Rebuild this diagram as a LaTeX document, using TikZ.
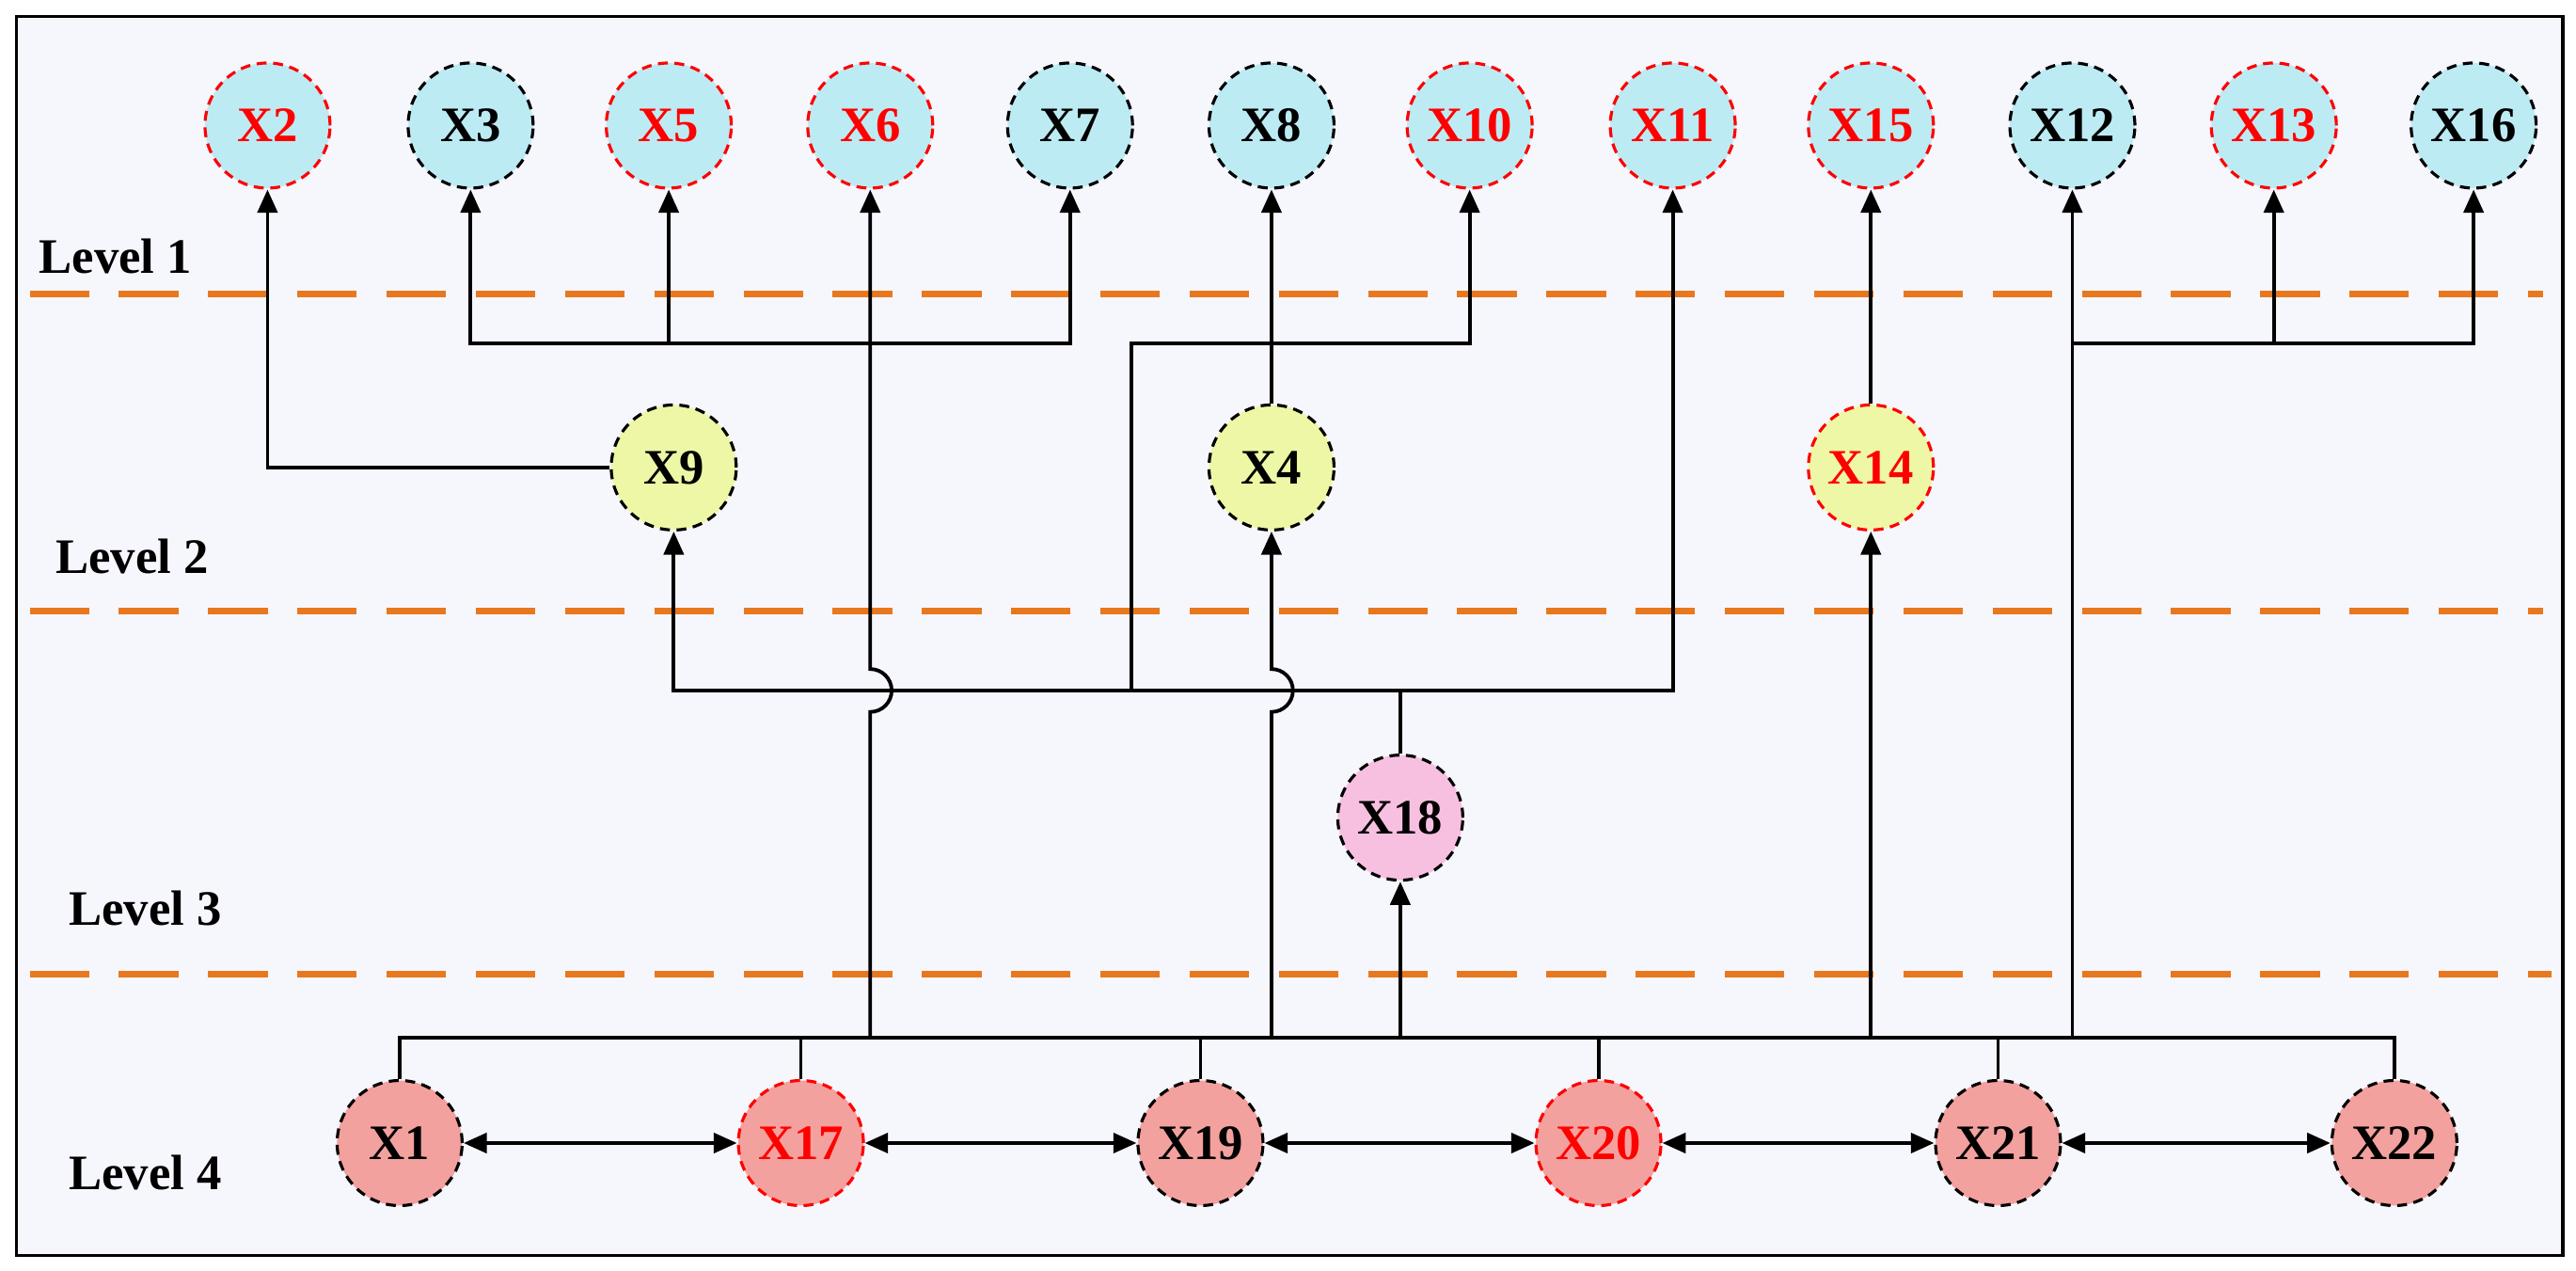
\documentclass[tikz,border=0pt]{standalone}
\usepackage{fontspec}
\setmainfont{Liberation Serif}
\usetikzlibrary{arrows.meta}
\definecolor{bg}{HTML}{F6F6FD}
\definecolor{cy}{HTML}{BDEBF3}
\definecolor{yg}{HTML}{EDF7A6}
\definecolor{pk}{HTML}{F8C0E0}
\definecolor{sal}{HTML}{F3A19E}
\definecolor{org}{HTML}{E8781E}
\tikzset{
 n/.style={circle,draw,densely dashed,line width=0.9pt,minimum size=1.33cm,inner sep=0pt,font=\fontsize{15}{18}\selectfont\bfseries},
 rb/.style={draw=red,text=red},
 kb/.style={draw=black,text=black},
 lv/.style={font=\fontsize{15}{18}\selectfont\bfseries},
 ln/.style={line width=1.1pt},
 ar/.style={ln,-{Triangle[length=7pt,width=6pt]}},
 dar/.style={ln,{Triangle[length=7pt,width=6pt]}-{Triangle[length=7pt,width=6pt]}},
 dl/.style={org,line width=2pt,dash pattern=on 18pt off 9pt}
}
\begin{document}
\begin{tikzpicture}[x=0.01756cm,y=-0.01756cm]
\useasboundingbox (0,0) rectangle (1560,769);
\draw[fill=bg,line width=1pt] (10,10) rectangle (1552,760);
\draw[dl] (18,178) -- (1540,178);
\draw[dl] (18,370) -- (1540,370);
\draw[dl] (18,590) -- (1545,590);
\node[lv] (l1) at (70,155) {Level 1};
\node[lv] (l2) at (80,337) {Level 2};
\node[lv] (l3) at (88,550) {Level 3};
\node[lv] (l4) at (88,710) {Level 4};
% top row
\foreach \nm/\x/\st in {X2/162/rb,X3/285/kb,X5/405/rb,X6/527/rb,X7/648/kb,X8/770/kb,X10/890/rb,X11/1013/rb,X15/1133/rb,X12/1255/kb,X13/1377/rb,X16/1498/kb}
  \node[n,\st,fill=cy] (\nm) at (\x,76) {\nm};
\node[n,kb,fill=yg] (X9) at (408,283) {X9};
\node[n,kb,fill=yg] (X4) at (770,283) {X4};
\node[n,rb,fill=yg] (X14) at (1133,283) {X14};
\node[n,kb,fill=pk] (X18) at (848,495) {X18};
\foreach \nm/\x/\st in {X1/242/kb,X17/485/rb,X19/727/kb,X20/968/rb,X21/1210/kb,X22/1450/kb}
  \node[n,\st,fill=sal] (\nm) at (\x,692) {\nm};
% bottom links
\draw[dar] (X1) -- (X17);
\draw[dar] (X17) -- (X19);
\draw[dar] (X19) -- (X20);
\draw[dar] (X20) -- (X21);
\draw[dar] (X21) -- (X22);
% bottom bus
\draw[ln] (X1.north) -- (242,628) -- (1450,628) -- (X22.north);
\foreach \nm in {X17,X19,X20,X21} \draw[ln] (\nm.north) -- (\nm.north |- 0,628);
% X6 and X4 with hops
\draw[ar] (527,628) -- (527,431) arc[start angle=-90,end angle=90,radius=0.228cm] -- (X6.south);
\draw[ar] (770,628) -- (770,431) arc[start angle=-90,end angle=90,radius=0.228cm] -- (X4.south);
\draw[ar] (848,628) -- (X18.south);
\draw[ar] (1133,628) -- (X14.south);
\draw[ar] (1255,628) -- (X12.south);
% level-3 bus
\coordinate (b3) at (848,418);
\draw[ln] (X18.north) -- (b3);
\draw[ar] (b3) -- (1013,418) -- (X11.south);
\draw[ar] (b3) -- (408,418) -- (X9.south);
\draw[ar] (685,418) -- (685,208) -- (890,208) -- (X10.south);
% level 2 to level 1
\draw[ar] (X9.west) -- (162,283) -- (X2.south);
\draw[ar] (X4.north) -- (X8.south);
\draw[ar] (X14.north) -- (X15.south);
\draw[ar] (405,208) -- (285,208) -- (X3.south);
\draw[ar] (405,208) -- (648,208) -- (X7.south);
\draw[ar] (405,208) -- (X5.south);
\draw[ar] (1255,208) -- (1498,208) -- (X16.south);
\draw[ar] (1377,208) -- (X13.south);
\end{tikzpicture}
\end{document}
